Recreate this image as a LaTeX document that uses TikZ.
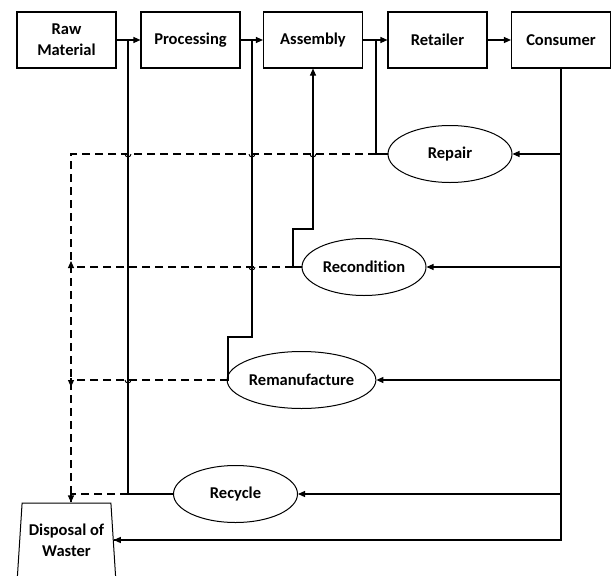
\documentclass[tikz,border=0pt]{standalone}
\usepackage{fontspec}
\setmainfont[Ligatures=NoCommon]{Carlito}
\usetikzlibrary{shapes.geometric,arrows.meta}
\begin{document}
\begin{tikzpicture}[x=1pt,y=-1pt,
  every node/.style={font=\fontsize{16.5}{21}\selectfont\bfseries,align=center,inner sep=0pt},
  box/.style={draw,line width=1.1pt,minimum width=99pt,minimum height=56pt},
  proc/.style={draw,ellipse,line width=1pt,minimum width=124pt,minimum height=57pt},
  link/.style={line width=1.1pt},
  flow/.style={line width=1.1pt,-{Triangle[length=7pt,width=6pt]}},
  waste/.style={line width=1.1pt,dash pattern=on 8pt off 5pt},
  tip/.style={line width=1.1pt,-{Triangle[length=7pt,width=6pt]}},
  hop/.style={line width=0.9pt}
]
\useasboundingbox (0,0) rectangle (611,576);

% top row
\node[box] (raw) at (66.5,40) {Raw\\Material};
\node[box] (proc) at (190.5,40) {Processing};
\node[box] (asm) at (313,40) {Assembly};
\node[box] (ret) at (437.5,40) {Retailer};
\node[box] (con) at (561,40) {Consumer};

% recovery options
\node[proc] (repair) at (450,154) {Repair};
\node[proc] (recon) at (364,267) {Recondition};
\node[proc] (reman) at (301.5,380) {Remanufacture};
\node[proc] (recyc) at (235.5,494) {Recycle};

% disposal
\node[draw,trapezium,trapezium left angle=83,trapezium right angle=83,
      trapezium stretches=true,minimum width=99pt,minimum height=74pt,
      line width=1pt] (disp) at (66.5,540) {Disposal of\\Waster};

% junction coordinates
\coordinate (j1) at (128,40);
\coordinate (j2) at (252,40);
\coordinate (j4) at (376,40);
\coordinate (dl) at (71,154);

% forward chain
\draw[flow] (raw) -- (proc);
\draw[flow] (proc) -- (asm);
\draw[flow] (asm) -- (ret);
\draw[flow] (ret) -- (con);

% consumer returns
\draw[link] (con.south) |- (disp.east);
\draw[flow] (disp.east -| con.south) -- (disp.east);
\draw[flow] (repair.east -| con.south) -- (repair.east);
\draw[flow] (recon.east -| con.south) -- (recon.east);
\draw[flow] (reman.east -| con.south) -- (reman.east);
\draw[flow] (recyc.east -| con.south) -- (recyc.east);

% recovery loops back into the chain
\draw[link] (repair.west) -- (376,154) -- (j4);
\draw[flow] (recon.west) -- (293,267) -- (293,229) -- (313,229) -- (asm.south);
\draw[link] (reman.west) -- (228,380) -- (228,337) -- (252,337) -- (j2);
\draw[link] (recyc.west) -| (j1);

% waste flows (dashed)
\draw[waste] (376,154) -- (dl) -- (dl |- disp.north);
\draw[waste] (293,267) -- (71,267);
\draw[waste] (228,380) -- (71,380);
\draw[waste] (128,494) -- (71,494);
\draw[tip] (71,269) -- (71,261);
\draw[tip] (71,378) -- (71,387);
\draw[tip] (71,494) -- (dl |- disp.north);

% line hops
\draw[hop] (125,154) arc (180:0:3);
\draw[hop] (249,154) arc (180:0:3);
\draw[hop] (310,154) arc (180:0:3);
\draw[hop] (249,267) arc (180:0:3);
\draw[hop] (125,380) arc (180:0:3);
\end{tikzpicture}
\end{document}
